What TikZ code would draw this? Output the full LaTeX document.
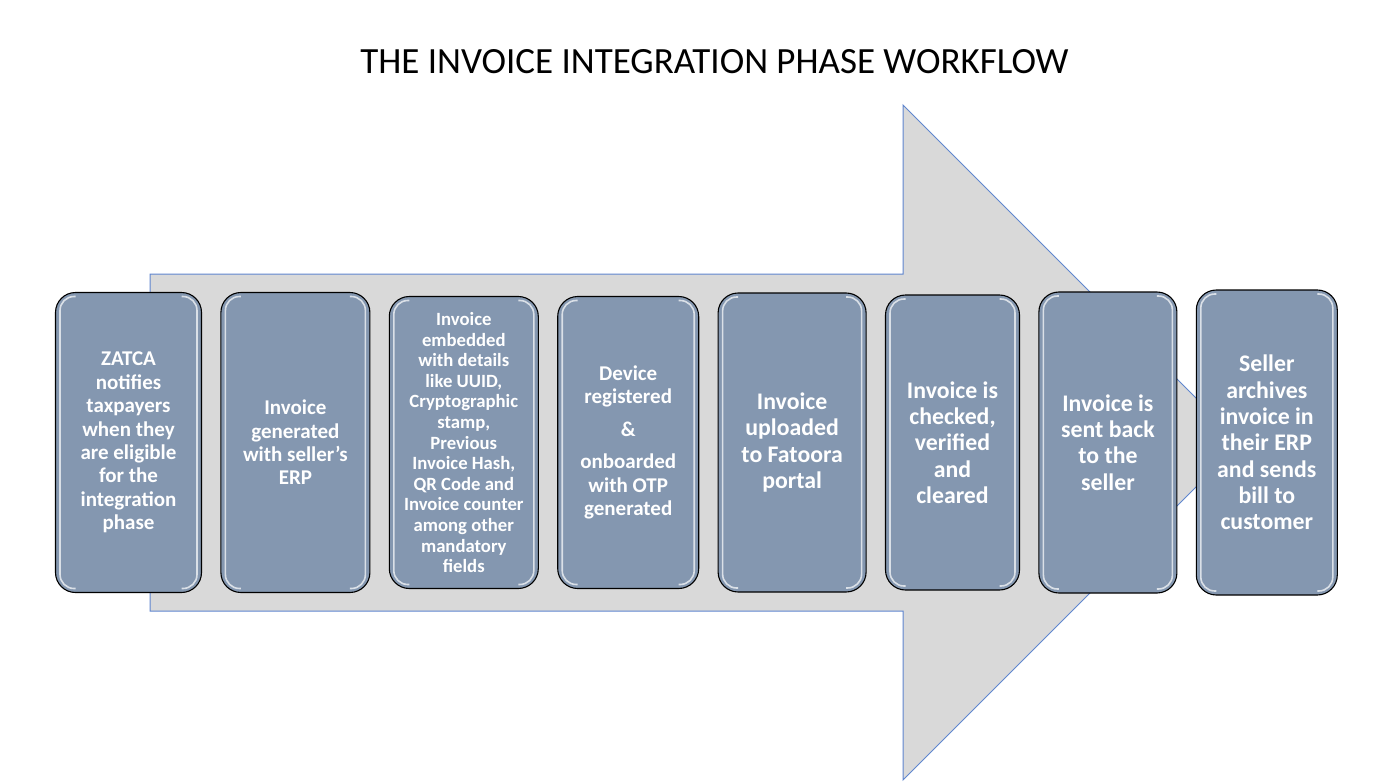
\documentclass[tikz,border=0pt]{standalone}
\usepackage{fontspec}
\setmainfont{Carlito}
\usetikzlibrary{positioning}

\definecolor{boxfill}{HTML}{8497B0}
\definecolor{arrowfill}{HTML}{D9D9D9}
\definecolor{arrowline}{HTML}{5F86CF}

\begin{document}
\begin{tikzpicture}[
	x = 1pt, y = -1pt, % pixel grid, y going down
	node distance = 18.3pt, % gap between the steps
	stepbox/.style = {
		draw = black,
		line width = 1.1pt,
		fill = boxfill,
		rounded corners = 20pt,
		text = white,
		align = center,
		inner sep = 0pt,
		path picture = {
			\draw[white, opacity = .7, line width = 1.6pt, rounded corners = 14pt]
			([xshift=20pt,yshift=-4pt]path picture bounding box.north west) --
			([xshift=4.5pt,yshift=-4pt]path picture bounding box.north west) --
			([xshift=4.5pt,yshift=4pt]path picture bounding box.south west) --
			([xshift=20pt,yshift=4pt]path picture bounding box.south west);
			\draw[white, opacity = .7, line width = 1.6pt, rounded corners = 14pt]
			([xshift=-20pt,yshift=-4pt]path picture bounding box.north east) --
			([xshift=-4.5pt,yshift=-4pt]path picture bounding box.north east) --
			([xshift=-4.5pt,yshift=4pt]path picture bounding box.south east) --
			([xshift=-20pt,yshift=4pt]path picture bounding box.south east);
		}
	},
	bigtext/.style = {font = \fontsize{23.8}{26.3}\selectfont\bfseries},
	midtext/.style = {font = \fontsize{21}{23.4}\selectfont\bfseries},
	smalltext/.style = {font = \fontsize{18.7}{20.6}\selectfont\bfseries}
	]
	
	\useasboundingbox (0,0) rectangle (1390,782);
	
	% big arrow behind the steps
	\draw[fill = arrowfill, draw = arrowline, line width = 1pt]
	(150,274) -- (903,274) -- (903,105) -- (1240.5,442.5) -- (903,780)
	-- (903,611) -- (150,611) -- cycle;
	
	\node[font = \fontsize{37}{44}\selectfont] (title) at (714.5,62) {THE INVOICE INTEGRATION PHASE WORKFLOW};
	
	\node[stepbox, midtext, minimum width = 146pt, minimum height = 300pt] (s1) at (128.5,442.5)
	{ZATCA\\notifies\\taxpayers\\when they\\are eligible\\for the\\integration\\phase};
	\node[stepbox, midtext, minimum width = 149pt, minimum height = 300pt] (s2) [right=of s1]
	{Invoice\\generated\\with seller’s\\ERP};
	\node[stepbox, smalltext, minimum width = 149pt, minimum height = 292pt] (s3) [right=of s2]
	{Invoice\\embedded\\with details\\like UUID,\\Cryptographic\\stamp,\\Previous\\Invoice Hash,\\QR Code and\\Invoice counter\\among other\\mandatory\\fields};
	\node[stepbox, midtext, minimum width = 141pt, minimum height = 292pt] (s4) [right=of s3]
	{Device\\registered\\[9pt]\&\\[9pt]onboarded\\with OTP\\generated};
	\node[stepbox, bigtext, minimum width = 148pt, minimum height = 299pt] (s5) [right=of s4]
	{Invoice\\uploaded\\to Fatoora\\portal};
	\node[stepbox, bigtext, minimum width = 134pt, minimum height = 295pt] (s6) [right=of s5]
	{Invoice is\\checked,\\verified\\and\\cleared};
	\node[stepbox, bigtext, minimum width = 138pt, minimum height = 301pt] (s7) [right=of s6]
	{Invoice is\\sent back\\to the\\seller};
	\node[stepbox, bigtext, minimum width = 141pt, minimum height = 305pt] (s8) [right=of s7]
	{Seller\\archives\\invoice in\\their ERP\\and sends\\bill to\\customer};
	
\end{tikzpicture}
\end{document}
